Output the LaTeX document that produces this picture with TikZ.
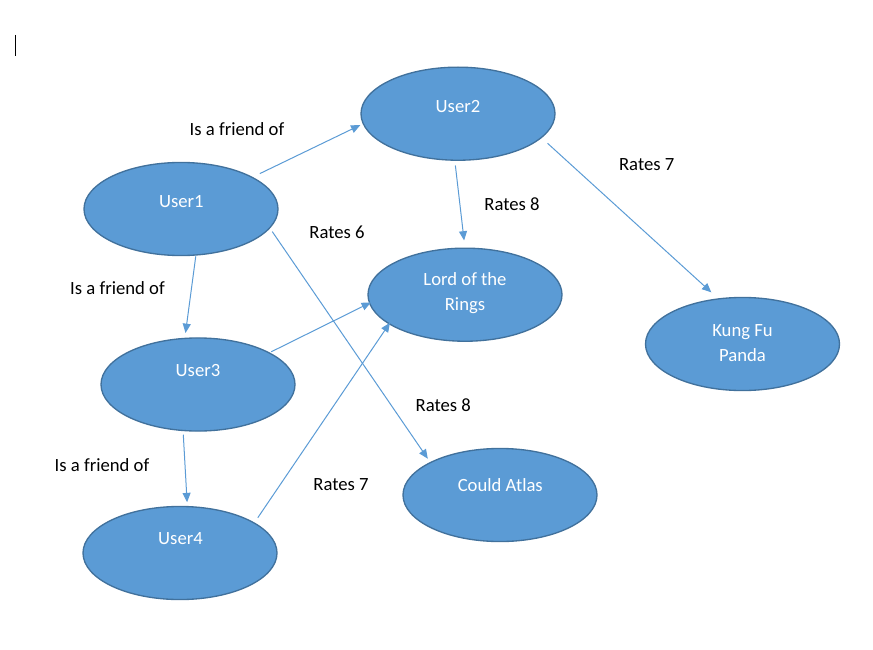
\documentclass[tikz,border=0pt]{standalone}
\usepackage{fontspec}
\setmainfont{Carlito}
\usetikzlibrary{shapes.geometric,arrows.meta}
\definecolor{ellfill}{HTML}{5B9BD5}
\definecolor{elldraw}{HTML}{41719C}
\definecolor{arrowcol}{HTML}{5B9BD5}
\begin{document}
\begin{tikzpicture}[x=0.75pt,y=-0.75pt,
  ell/.style={ellipse, draw=elldraw, fill=ellfill, line width=1pt, minimum width=145.5pt, minimum height=69.8pt, inner sep=0pt, outer sep=0pt},
  intext/.style={text=white, font=\fontsize{14pt}{18.75pt}\selectfont, anchor=base, inner sep=0pt, align=center},
  lbl/.style={text=black, font=\fontsize{14pt}{17pt}\selectfont, anchor=base, inner sep=0pt},
  conn/.style={draw=arrowcol, line width=0.75pt, -{Triangle[length=7pt,width=6pt]}}
]
\useasboundingbox (0,0) rectangle (873,649);
% text cursor
\draw[line width=0.75pt] (15,35) -- (15,56);
% ellipses
\node[ell] (u1) at (181,209) {};
\node[ell] (u2) at (458,113.7) {};
\node[ell] (lotr) at (465,294.7) {};
\node[ell] (kfp) at (742.5,344) {};
\node[ell] (u3) at (198,384.5) {};
\node[ell] (u4) at (180,553) {};
\node[ell] (ca) at (500,495) {};
% ellipse texts
\node[intext] (u1t) at (181.3,207.7) {User1};
\node[intext] (u2t) at (458,112.7) {User2};
\node[intext] (u3t) at (198,376) {User3};
\node[intext] (u4t) at (180.5,544) {User4};
\node[intext] (cat) at (500.3,491.7) {Could Atlas};
\node[intext] (lotrt) at (465,310.3) {Lord of the\\Rings};
\node[intext] (kfpt) at (742.5,361) {Kung Fu\\Panda};
% connectors
\draw[conn, shorten <=6.45pt, shorten >=2.4pt] (u1.24.3) -- (u2.186.6);
\draw[conn, shorten <=1pt, shorten >=4.1pt] (u1.-72.9) -- (u3.106.5);
\draw[conn, shorten <=3.45pt, shorten >=3.5pt] (u1.-12.3) -- (ca.155.4);
\draw[conn, shorten <=4pt, shorten >=5.8pt] (u2.-94) -- (lotr.90);
\draw[conn, shorten <=6.4pt, shorten >=7.3pt] (u2.-16) -- (kfp.118.4);
\draw[conn, shorten <=1.8pt, shorten >=-1.1pt] (u3.24.7) -- (lotr.185.7);
\draw[conn, shorten <=3.2pt, shorten >=3.3pt] (u3.-108.6) -- (u4.81.9);
\draw[conn, shorten <=4.8pt, shorten >=-0.9pt] (u4.22.4) -- (lotr.201.5);
% connector labels
\node[lbl] (l1) at (237,135.3) {Is a friend of};
\node[lbl] (l2) at (117.5,294.3) {Is a friend of};
\node[lbl] (l3) at (102,471) {Is a friend of};
\node[lbl] (l4) at (646.7,170) {Rates 7};
\node[lbl] (l5) at (512,210) {Rates 8};
\node[lbl] (l6) at (337,238.3) {Rates 6};
\node[lbl] (l7) at (443.3,411) {Rates 8};
\node[lbl] (l8) at (341,490) {Rates 7};
\end{tikzpicture}
\end{document}
